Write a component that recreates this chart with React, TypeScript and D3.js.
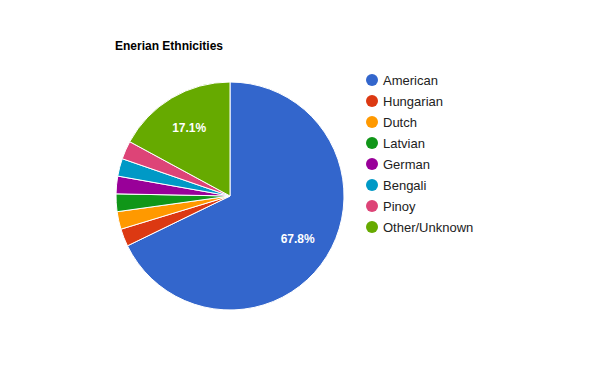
import * as d3 from "d3";
import { useEffect, useRef } from "react";

const categories = ["American", "Hungarian", "Dutch", "Latvian", "German", "Bengali", "Pinoy", "Other/Unknown"];
const shares = [67.8, 2.5, 2.5, 2.5, 2.5, 2.5, 2.6, 17.1];
const colors = ["#3366cc", "#dc3912", "#ff9900", "#109618", "#990099", "#0099c6", "#dd4477", "#66aa00"];

export default function App() {
  const ref = useRef<SVGSVGElement>(null);

  useEffect(() => {
    const width = 600,
      height = 390;
    const cx = 230,
      cy = 196,
      radius = 114;

    const svg = d3.select(ref.current);
    svg.selectAll("*").remove();
    svg.attr("width", width).attr("height", height).style("font-family", "Arial, 'Liberation Sans', sans-serif");

    svg.append("rect").attr("width", width).attr("height", height).attr("fill", "#fff");

    svg
      .append("text")
      .attr("x", 115)
      .attr("y", 50)
      .attr("font-size", 12)
      .attr("font-weight", "bold")
      .attr("fill", "#000")
      .text("Enerian Ethnicities");

    const pie = d3.pie<number>().sort(null).value((d) => d);
    const data = pie(shares);
    const total = d3.sum(shares);

    const arc = d3.arc<d3.PieArcDatum<number>>().innerRadius(0).outerRadius(radius);
    const labelArc = d3.arc<d3.PieArcDatum<number>>().innerRadius(radius * 0.7).outerRadius(radius * 0.7);

    const g = svg.append("g").attr("transform", `translate(${cx},${cy})`);

    g.selectAll("path")
      .data(data)
      .join("path")
      .attr("d", arc)
      .attr("fill", (d, i) => colors[i])
      .attr("stroke", "#fff")
      .attr("stroke-width", 1);

    g.selectAll("text")
      .data(data.filter((d) => d.data / total > 0.05))
      .join("text")
      .attr("transform", (d) => {
        const [x, y] = labelArc.centroid(d);
        return `translate(${x},${y})`;
      })
      .attr("text-anchor", "middle")
      .attr("dy", "0.35em")
      .attr("font-size", 12)
      .attr("font-weight", "bold")
      .attr("fill", "#fff")
      .text((d) => `${((d.data / total) * 100).toFixed(1)}%`);

    const legend = svg
      .append("g")
      .selectAll("g")
      .data(categories)
      .join("g")
      .attr("transform", (d, i) => `translate(372,${80 + i * 21})`);

    legend
      .append("circle")
      .attr("r", 6)
      .attr("fill", (d, i) => colors[i]);

    legend
      .append("text")
      .attr("x", 11)
      .attr("dy", "0.35em")
      .attr("font-size", 13)
      .attr("fill", "#222")
      .text((d) => d);
  }, []);

  return <svg ref={ref} style={{ position: "absolute", left: 0, top: 0 }}></svg>;
}
